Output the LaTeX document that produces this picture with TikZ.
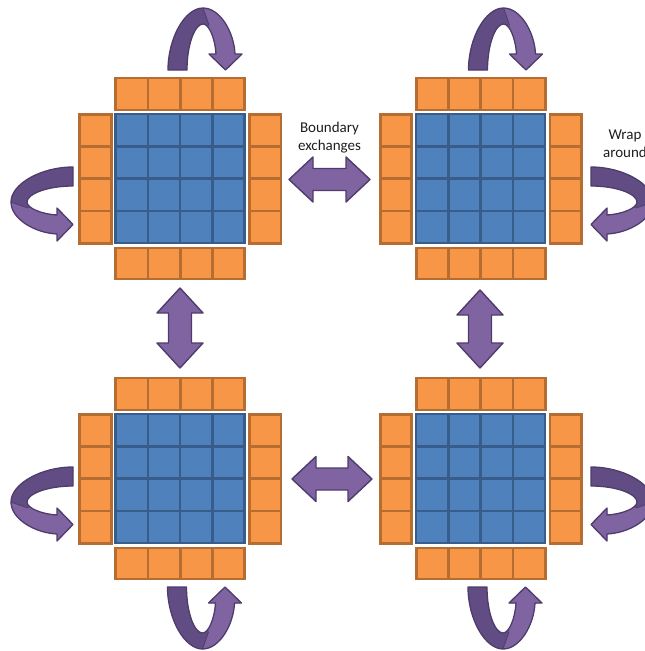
\documentclass[tikz,border=0pt]{standalone}
\usepackage{fontspec}
\setmainfont{Carlito}
\usetikzlibrary{calc}
\definecolor{bluefill}{HTML}{4F81BD}
\definecolor{blueline}{HTML}{385D8A}
\definecolor{orfill}{HTML}{F79646}
\definecolor{orline}{HTML}{B66D31}
\definecolor{arrlight}{HTML}{8064A2}
\definecolor{arrdark}{HTML}{624C84}
\definecolor{arrline}{HTML}{4E3C6B}
\definecolor{txt}{HTML}{1E1E1E}

\newcommand\cellsz{32.25}
\newcommand\gridblock[3]{%
  \coordinate (#1) at (#2,#3);
  \foreach \i in {0,...,3}{
    \foreach \j in {0,...,3}{
      \draw[bluecell] ($(#1)+(1.2+\i*\cellsz,1.2+\j*\cellsz)$) rectangle ++(\cellsz,\cellsz);
    }
    \draw[orcell] ($(#1)+(1.2+\i*\cellsz,-35)$) rectangle ++(\cellsz,32);
    \draw[orcell] ($(#1)+(1.2+\i*\cellsz,135)$) rectangle ++(\cellsz,31);
    \draw[orcell] ($(#1)+(-34.8,1.2+\i*\cellsz)$) rectangle ++(31.5,\cellsz);
    \draw[orcell] ($(#1)+(135,1.2+\i*\cellsz)$) rectangle ++(31.5,\cellsz);
  }
}
% horizontal double arrow between two named tips
\newcommand\harr[2]{%
  \draw[dblarrow] (#1) -- ([xshift=24pt,yshift=22.5pt]#1) -- ([xshift=24pt,yshift=11pt]#1)
    -- ([xshift=-24pt,yshift=11pt]#2) -- ([xshift=-24pt,yshift=22.5pt]#2) -- (#2)
    -- ([xshift=-24pt,yshift=-22.5pt]#2) -- ([xshift=-24pt,yshift=-11pt]#2)
    -- ([xshift=24pt,yshift=-11pt]#1) -- ([xshift=24pt,yshift=-22.5pt]#1) -- cycle;
}
% vertical double arrow, first tip on top
\newcommand\varr[2]{%
  \draw[dblarrow] (#1) -- ([xshift=23pt,yshift=-25pt]#1) -- ([xshift=11.5pt,yshift=-25pt]#1)
    -- ([xshift=11.5pt,yshift=25pt]#2) -- ([xshift=23pt,yshift=25pt]#2) -- (#2)
    -- ([xshift=-23pt,yshift=25pt]#2) -- ([xshift=-11.5pt,yshift=25pt]#2)
    -- ([xshift=-11.5pt,yshift=-25pt]#1) -- ([xshift=-23pt,yshift=-25pt]#1) -- cycle;
}
\newcommand\wrapshape{(-35,0) .. controls (-35,32) and (-18,62) .. (0,62)
  .. controls (17,62) and (31,38) .. (32,16) -- (39,16) -- (22.5,0) -- (6,16) -- (13,16)
  .. controls (12,32) and (6,46) .. (0,46) .. controls (-8,46) and (-16,26) .. (-16,0) -- cycle}
\newcommand\wraparrow[3]{%
  \begin{scope}[shift={#1}, x={#2}, y={#3}]
    \fill[arrdark] \wrapshape;
    \begin{scope}
      \clip (0,70) -- (0,62) -- (6,45) -- (6,-5) -- (60,-5) -- (60,70) -- cycle;
      \fill[arrlight] \wrapshape;
    \end{scope}
    \draw[arrline, line width=0.8pt] (0,62) -- (6,45);
    \draw[arrline, line width=1.3pt, line join=round] \wrapshape;
  \end{scope}
}

\begin{document}
\begin{tikzpicture}[x=1pt,y=-1pt,
  bluecell/.style={fill=bluefill, draw=blueline, line width=2.5pt},
  orcell/.style={fill=orfill, draw=orline, line width=2.7pt},
  dblarrow/.style={fill=arrlight, draw=arrline, line width=1.4pt, line join=round},
  lbl/.style={text=txt, font=\fontsize{15}{18}\selectfont, inner sep=0pt}]
\useasboundingbox (0,0) rectangle (645,651);
\clip (0,0) rectangle (645,651);

\gridblock{tl}{114.5}{113}
\gridblock{tr}{415}{113}
\gridblock{bl}{114.5}{413}
\gridblock{br}{415}{413}

% boundary exchanges
\coordinate (h1a) at (289,179.5); \coordinate (h1b) at (370,179.5);
\coordinate (h2a) at (292,479);   \coordinate (h2b) at (372,479);
\coordinate (v1a) at (180,288);   \coordinate (v1b) at (180,368);
\coordinate (v2a) at (480,290);   \coordinate (v2b) at (480,368);
\harr{h1a}{h1b}
\harr{h2a}{h2b}
\varr{v1a}{v1b}
\varr{v2a}{v2b}

% wrap-around arrows
\wraparrow{(203,70)}{(1pt,0pt)}{(0pt,1pt)}
\wraparrow{(503.5,70)}{(1pt,0pt)}{(0pt,1pt)}
\wraparrow{(202.5,587)}{(1pt,0pt)}{(0pt,-1pt)}
\wraparrow{(503,587)}{(1pt,0pt)}{(0pt,-1pt)}
\wraparrow{(73,202)}{(0pt,-1pt)}{(-1pt,0pt)}
\wraparrow{(73,502)}{(0pt,-1pt)}{(-1pt,0pt)}
\wraparrow{(591,202)}{(0pt,-1pt)}{(1pt,0pt)}
\wraparrow{(591,502)}{(0pt,-1pt)}{(1pt,0pt)}

% labels
\node[lbl, anchor=base] (b1) at (329.5,132) {Boundary};
\node[lbl, anchor=base] (b2) at (329.5,150.5) {exchanges};
\node[lbl, anchor=base] (w1) at (625,139) {Wrap};
\node[lbl, anchor=base] (w2) at (625,157.5) {around};
\end{tikzpicture}
\end{document}
